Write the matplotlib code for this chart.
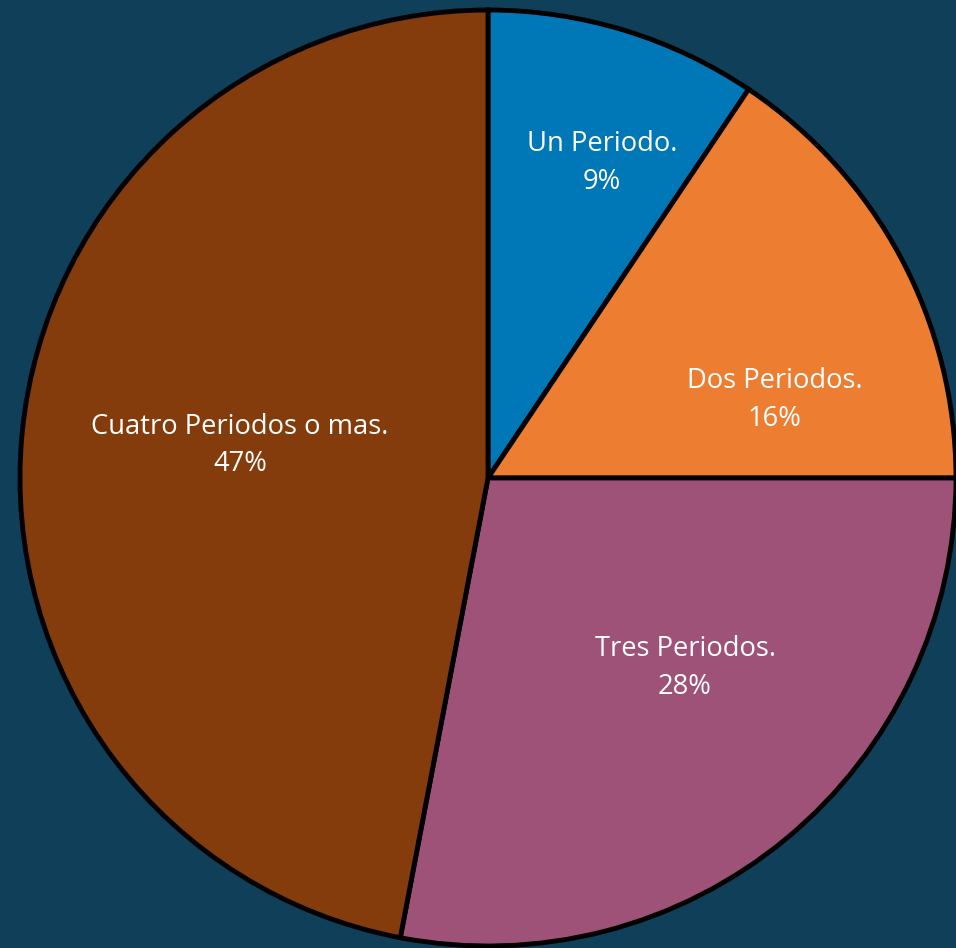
import matplotlib.pyplot as plt

# datos del grafico
categorias = ['Un Periodo.', 'Dos Periodos.', 'Tres Periodos.', 'Cuatro Periodos o mas.']
valores = [9.4, 15.6, 28.0, 47.0]
colores = ['#0077b6', '#ed7d31', '#9e5278', '#843c0c']
# posicion de las etiquetas (en unidades del radio)
pos_etiquetas = [(0.244, 0.673), (0.613, 0.167), (0.421, -0.406), (-0.530, 0.069)]

fondo = '#0f3f59'

fig = plt.figure(figsize=(9.56, 9.48), dpi=100, facecolor=fondo)
ax = fig.add_axes([0, 0, 1, 1])
ax.set_facecolor(fondo)

ax.pie(valores, colors=colores, startangle=90, counterclock=False, radius=1.0,
       wedgeprops={'edgecolor': 'black', 'linewidth': 3.5})

total = sum(valores)
for nombre, v, (x, y) in zip(categorias, valores, pos_etiquetas):
    ax.text(x, y, f'{nombre}\n{v / total * 100:.0f}%', ha='center', va='center',
            color='white', fontsize=19.7, family='Open Sans', linespacing=1.45)

# centro del pastel en (488, 478) px, radio 468 px
ax.set_xlim(-488 / 468, (956 - 488) / 468)
ax.set_ylim(-(948 - 478) / 468, 478 / 468)
ax.set_aspect('auto')
ax.axis('off')

fig.savefig('out.png', dpi=100, facecolor=fondo)
